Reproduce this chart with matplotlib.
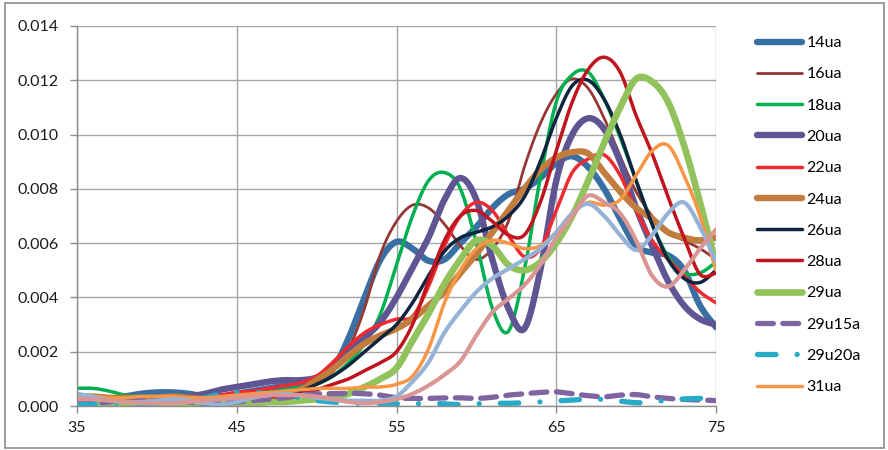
import numpy as np
import matplotlib
matplotlib.use("Agg")
import matplotlib.pyplot as plt
from matplotlib.ticker import FormatStrFormatter
from matplotlib.patches import Rectangle

# x positions (35..75), values in units of 0.001
x = list(range(35, 76))

ua14 = [0.30, 0.25, 0.25, 0.35, 0.45, 0.50, 0.50, 0.45, 0.35, 0.35,
        0.45, 0.55, 0.65, 0.75, 0.85, 0.95, 1.35, 2.50, 4.00, 5.40,
        6.05, 5.80, 5.35, 5.40, 6.00, 6.60, 7.30, 7.80, 8.00, 8.40,
        8.95, 9.20, 8.80, 8.00, 6.90, 5.90, 5.65, 5.55, 5.00, 3.70, 2.90]
ua16 = [0.20, 0.20, 0.20, 0.15, 0.15, 0.20, 0.20, 0.20, 0.20, 0.25,
        0.30, 0.35, 0.40, 0.50, 0.60, 0.85, 1.30, 2.10, 3.60, 5.60,
        6.80, 7.40, 7.30, 6.70, 5.90, 5.40, 5.80, 6.80, 8.80, 10.40,
        11.50, 12.05, 11.70, 10.60, 9.20, 7.90, 7.00, 6.40, 6.10, 5.80, 5.40]
ua18 = [0.65, 0.65, 0.55, 0.40, 0.35, 0.35, 0.30, 0.30, 0.30, 0.35,
        0.40, 0.45, 0.50, 0.60, 0.70, 0.80, 1.10, 1.60, 2.30, 3.40,
        5.20, 7.00, 8.30, 8.60, 8.00, 6.00, 3.60, 2.75, 5.00, 8.40,
        11.20, 12.20, 12.30, 11.30, 9.90, 8.30, 6.70, 5.50, 4.90, 4.90, 5.30]
ua20 = [0.30, 0.30, 0.25, 0.20, 0.20, 0.25, 0.30, 0.35, 0.45, 0.60,
        0.70, 0.80, 0.90, 0.95, 0.95, 1.05, 1.40, 2.00, 2.50, 3.10,
        4.00, 5.10, 6.20, 7.60, 8.40, 7.60, 5.40, 3.60, 2.85, 5.00,
        8.30, 10.00, 10.60, 10.20, 9.00, 7.30, 5.90, 4.60, 3.70, 3.20, 3.00]
ua22 = [0.15, 0.15, 0.15, 0.10, 0.10, 0.10, 0.10, 0.15, 0.25, 0.40,
        0.50, 0.55, 0.65, 0.75, 0.85, 1.10, 1.60, 2.20, 2.70, 3.00,
        3.20, 3.30, 4.40, 5.90, 7.00, 7.50, 7.20, 6.30, 5.50, 5.80,
        7.20, 8.60, 9.10, 9.25, 8.50, 7.20, 6.10, 5.40, 4.80, 4.20, 3.80]
ua24 = [0.35, 0.35, 0.30, 0.30, 0.30, 0.30, 0.35, 0.30, 0.25, 0.25,
        0.25, 0.30, 0.35, 0.45, 0.60, 0.95, 1.35, 1.85, 2.30, 2.60,
        2.85, 3.20, 3.70, 4.20, 4.90, 5.60, 6.40, 7.20, 8.00, 8.70,
        9.15, 9.35, 9.30, 8.60, 7.90, 7.30, 6.90, 6.40, 6.20, 6.10, 6.20]
ua26 = [0.10, 0.10, 0.10, 0.05, 0.05, 0.05, 0.10, 0.05, 0.05, 0.10,
        0.15, 0.20, 0.30, 0.40, 0.55, 0.80, 1.10, 1.50, 2.00, 2.50,
        3.00, 3.80, 4.80, 5.70, 6.20, 6.40, 6.60, 7.00, 7.70, 9.00,
        10.60, 11.80, 12.00, 11.30, 10.00, 8.30, 6.70, 5.40, 4.70, 4.55, 5.00]
ua28 = [0.10, 0.10, 0.05, 0.05, 0.10, 0.10, 0.10, 0.05, 0.05, 0.10,
        0.20, 0.25, 0.30, 0.35, 0.45, 0.60, 0.80, 1.00, 1.30, 1.60,
        2.00, 3.00, 4.60, 6.10, 7.00, 7.20, 6.80, 6.30, 6.30, 7.50,
        9.40, 11.20, 12.40, 12.85, 12.30, 10.70, 9.30, 7.70, 6.20, 4.85, 4.90]
ua29 = [0.05, 0.05, 0.10, 0.10, 0.05, 0.05, 0.10, 0.10, 0.15, 0.15,
        0.10, 0.10, 0.15, 0.15, 0.20, 0.25, 0.30, 0.45, 0.70, 1.00,
        1.40, 2.40, 3.40, 4.50, 5.40, 6.10, 5.90, 5.20, 5.00, 5.30,
        6.00, 7.00, 8.30, 9.70, 11.00, 12.05, 11.95, 11.20, 9.60, 7.50, 5.20]
u29_15a = [0.15, 0.10, 0.15, 0.25, 0.30, 0.30, 0.25, 0.15, 0.10, 0.10,
           0.15, 0.20, 0.25, 0.30, 0.40, 0.45, 0.45, 0.47, 0.45, 0.40,
           0.30, 0.28, 0.28, 0.30, 0.30, 0.28, 0.32, 0.40, 0.45, 0.50,
           0.52, 0.45, 0.38, 0.34, 0.40, 0.42, 0.34, 0.28, 0.24, 0.22, 0.20]
u29_20a = [0.05, 0.05, 0.10, 0.10, 0.05, 0.10, 0.15, 0.20, 0.30, 0.45,
           0.50, 0.50, 0.45, 0.40, 0.30, 0.20, 0.15, 0.10, 0.10, 0.10,
           0.08, 0.08, 0.10, 0.08, 0.05, 0.08, 0.10, 0.10, 0.12, 0.15,
           0.18, 0.22, 0.25, 0.24, 0.18, 0.12, 0.15, 0.22, 0.26, 0.28, 0.30]
ua31 = [0.35, 0.35, 0.30, 0.30, 0.35, 0.35, 0.35, 0.30, 0.30, 0.35,
        0.40, 0.45, 0.50, 0.55, 0.60, 0.65, 0.65, 0.65, 0.70, 0.70,
        0.80, 1.10, 2.10, 3.80, 5.00, 5.80, 6.10, 6.00, 5.80, 5.90,
        6.40, 7.10, 7.50, 7.40, 7.60, 8.50, 9.40, 9.60, 8.50, 7.00, 5.00]
# two more series are drawn but the legend is cut off before them
extra_blue = [0.45, 0.35, 0.20, 0.15, 0.15, 0.20, 0.25, 0.20, 0.10, 0.05,
              0.15, 0.30, 0.40, 0.45, 0.40, 0.30, 0.25, 0.20, 0.20, 0.20,
              0.35, 0.90, 1.60, 2.70, 3.50, 4.20, 4.70, 5.05, 5.40, 5.80,
              6.40, 7.10, 7.45, 7.00, 6.30, 5.75, 6.30, 7.10, 7.50, 6.60, 5.30]
extra_pink = [0.25, 0.25, 0.20, 0.15, 0.10, 0.10, 0.10, 0.15, 0.20, 0.25,
              0.30, 0.35, 0.40, 0.40, 0.40, 0.35, 0.25, 0.15, 0.10, 0.15,
              0.25, 0.45, 0.75, 1.15, 1.65, 2.60, 3.45, 3.95, 4.45, 5.20,
              6.20, 7.00, 7.75, 7.50, 7.10, 6.10, 4.80, 4.40, 5.00, 5.80, 6.50]

labels = ["14ua", "16ua", "18ua", "20ua", "22ua", "24ua", "26ua", "28ua",
          "29ua", "29u15a", "29u20a", "31ua", "_extra1", "_extra2"]
series = [ua14, ua16, ua18, ua20, ua22, ua24, ua26, ua28,
          ua29, u29_15a, u29_20a, ua31, extra_blue, extra_pink]
colors = ["#3A6FA3", "#953735", "#00B050", "#5F5593", "#EE2A30", "#C27C3E",
          "#0F243E", "#C0141E", "#92C25C", "#8064A2", "#26AAC8", "#F79646",
          "#95B3D7", "#D99694"]
widths = [4.6, 2.0, 2.5, 4.6, 2.5, 4.6, 2.5, 2.5, 4.8, 3.8, 3.8, 2.5, 3.0, 3.0]


def smooth(xs, ys, n=24):
    # excel-like smoothed line (catmull-rom bezier)
    p = np.column_stack([xs, ys]).astype(float)
    p = np.vstack([p[0], p, p[-1]])
    out = []
    t = np.linspace(0, 1, n)[:, None]
    for i in range(1, len(p) - 2):
        p0, p1, p2, p3 = p[i - 1], p[i], p[i + 1], p[i + 2]
        c1 = p1 + (p2 - p0) / 6
        c2 = p2 - (p3 - p1) / 6
        seg = ((1 - t) ** 3) * p1 + 3 * ((1 - t) ** 2) * t * c1 + 3 * (1 - t) * t ** 2 * c2 + t ** 3 * p2
        out.append(seg if i == 1 else seg[1:])
    out = np.vstack(out)
    return out[:, 0], out[:, 1]


plt.rcParams['font.family'] = ['Lato', 'DejaVu Sans']

fig = plt.figure(figsize=(8.88, 4.5), dpi=100)
ax = fig.add_axes([77 / 888, 1 - 406 / 450, (716 - 77) / 888, (406 - 26) / 450])

handles = []
for lab, vals, col, lw in zip(labels, series, colors, widths):
    sx, sy = smooth(x, np.array(vals) * 1e-3)
    line, = ax.plot(sx, sy, color=col, lw=lw, solid_capstyle='round',
                    solid_joinstyle='round', label=lab)
    if lab == "29u15a":
        line.set_dashes([3.0, 1.8])
        line.set_dash_capstyle('round')
    elif lab == "29u20a":
        line.set_dashes([3.5, 4.0, 0.01, 4.0])
        line.set_dash_capstyle('round')
    handles.append(line)

ax.set_xlim(35, 75)
ax.set_ylim(0, 0.014)
ax.set_xticks([35, 45, 55, 65, 75])
ax.set_yticks(np.arange(0, 0.0141, 0.002))
ax.yaxis.set_major_formatter(FormatStrFormatter('%.3f'))
ax.grid(True, color='#A6A6A6', lw=1.0)
ax.set_axisbelow(True)
for s in ['top', 'right']:
    ax.spines[s].set_visible(False)
for s in ['left', 'bottom']:
    ax.spines[s].set_color('#8C8C8C')
    ax.spines[s].set_linewidth(1.0)
ax.tick_params(axis='both', colors='#8C8C8C', labelcolor='#1A1A1A',
               labelsize=11.5, length=5, width=1.0)
ax.tick_params(axis='y', pad=8)
ax.tick_params(axis='x', pad=6)

fig.legend(handles[:12], labels[:12], loc='upper left',
           bbox_to_anchor=(757 / 888, 1 - 36 / 450), frameon=False,
           fontsize=11.5, handlelength=2.8, handletextpad=0.3,
           labelspacing=1.07, borderpad=0, borderaxespad=0)

fig.patches.append(Rectangle((5 / 888, 2 / 450), 879 / 888, 445 / 450,
                             transform=fig.transFigure, fill=False,
                             edgecolor='#8C8C8C', lw=1.2))

fig.savefig("out.png", dpi=100)
